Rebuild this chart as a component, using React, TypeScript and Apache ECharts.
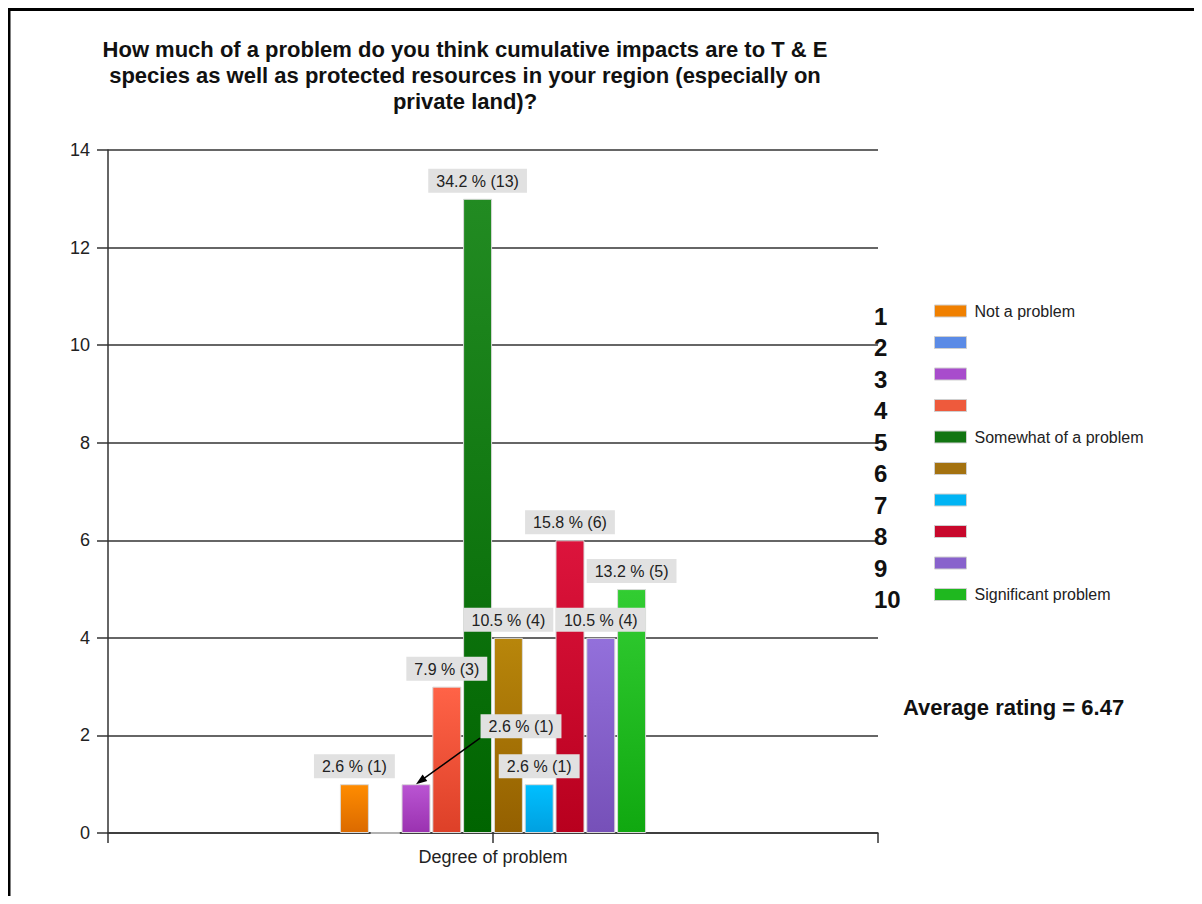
import React, { useEffect, useRef } from 'react';
import * as echarts from 'echarts';

const FONT = '"Liberation Sans", Arial, sans-serif';

const titleLines = [
  'How much of a problem do you think cumulative impacts are to T & E',
  'species as well as protected resources in your region (especially on',
  'private land)?',
];
const categories = ['Degree of problem'];
const ratingNames = ['1', '2', '3', '4', '5', '6', '7', '8', '9', '10'];
const ratingDescriptions = [
  'Not a problem', '', '', '', 'Somewhat of a problem', '', '', '', '', 'Significant problem',
];
const responseCounts = [1, 0, 1, 3, 13, 4, 1, 6, 4, 5];
const barTopColors = [
  '#ff8c00', '#6495ed', '#ba55d3', '#ff6347', '#228b22',
  '#b8860b', '#00bfff', '#dc143c', '#9370db', '#32cd32',
];
const barBottomColors = [
  '#db6a00', '#4a7ad6', '#9a32b0', '#dd4028', '#006400',
  '#946000', '#00a0e0', '#b8001e', '#7650b8', '#10a810',
];
const swatchColors = [
  '#f08000', '#5b8be6', '#a84ccc', '#ee5a3c', '#127512',
  '#a47210', '#00b4f4', '#c8082c', '#8862cc', '#1fb81f',
];
const yMin = 0;
const yMax = 14;
const yInterval = 2;
// Label for rating 3 is moved aside and tied back to its bar with an arrow.
const movedLabelIndex = 2;
const movedLabelOffset = [105, -40];

const total = responseCounts.reduce((a, b) => a + b, 0);
const averageRating =
  responseCounts.reduce((acc, v, i) => acc + v * Number(ratingNames[i]), 0) / total;

export default function App() {
  const ref = useRef<HTMLDivElement>(null);

  useEffect(() => {
    if (!ref.current) return;
    const chart = echarts.init(ref.current, null, { renderer: 'svg' });

    const series = ratingNames.map((name, i) => ({
      type: 'bar',
      name,
      data: [responseCounts[i]],
      barWidth: 29,
      barGap: '6.2%',
      itemStyle: {
        color: new echarts.graphic.LinearGradient(0, 0, 0, 1, [
          { offset: 0, color: barTopColors[i] },
          { offset: 1, color: barBottomColors[i] },
        ]),
        borderColor: '#d9d9d9',
        borderWidth: 1,
      },
      label: {
        show: responseCounts[i] > 0,
        position: 'top',
        distance: 6,
        offset: i === movedLabelIndex ? movedLabelOffset : [0, 0],
        formatter: (p: any) => `${((p.value / total) * 100).toFixed(1)} % (${p.value})`,
        backgroundColor: '#e1e1e1',
        padding: [4, 8, 3, 8],
        color: '#222',
        fontSize: 16,
        lineHeight: 17,
        fontFamily: FONT,
      },
      emphasis: { disabled: true },
    }));

    const axisLineStyle = { color: '#333', width: 1.5 };

    const baseGraphic: any[] = [
      {
        type: 'rect',
        silent: true,
        shape: { x: 1, y: 1.5, width: 3000, height: 3000 },
        style: { fill: 'none', stroke: '#000', lineWidth: 3 },
      },
      {
        type: 'text',
        silent: true,
        x: 457,
        y: 28,
        style: {
          text: titleLines.join('\n'),
          fontSize: 22,
          fontWeight: 'bold',
          fontFamily: FONT,
          align: 'center',
          verticalAlign: 'top',
          lineHeight: 26,
          fill: '#111',
        },
      },
      {
        type: 'text',
        silent: true,
        x: 895,
        y: 699,
        style: {
          text: `Average rating = ${averageRating.toFixed(2)}`,
          fontSize: 22,
          fontWeight: 'bold',
          fontFamily: FONT,
          align: 'left',
          verticalAlign: 'middle',
          fill: '#111',
        },
      },
    ];

    chart.setOption({
      animation: false,
      grid: { left: 100, top: 142, width: 770, height: 683, containLabel: false },
      xAxis: [
        {
          type: 'category',
          data: categories,
          axisLine: { lineStyle: axisLineStyle },
          axisTick: { show: true, length: 10, alignWithLabel: false, lineStyle: axisLineStyle },
          axisLabel: { fontSize: 18, color: '#222', margin: 15, fontFamily: FONT },
          splitLine: { show: false },
        },
        {
          type: 'category',
          data: categories,
          position: 'bottom',
          axisLine: { show: false },
          axisTick: { show: true, length: 10, alignWithLabel: true, lineStyle: axisLineStyle },
          axisLabel: { show: false },
          splitLine: { show: false },
        },
      ],
      yAxis: {
        type: 'value',
        min: yMin,
        max: yMax,
        interval: yInterval,
        axisLine: { show: true, lineStyle: axisLineStyle },
        axisTick: { show: true, length: 11, lineStyle: axisLineStyle },
        axisLabel: { fontSize: 18, color: '#222', margin: 18, fontFamily: FONT },
        splitLine: { show: true, lineStyle: axisLineStyle },
      },
      legend: [
        {
          data: ratingNames.map((name, i) => ({
            name,
            itemStyle: { color: swatchColors[i], borderColor: '#cfcfcf', borderWidth: 1 },
          })),
          orient: 'vertical',
          left: 926,
          top: 287.25,
          padding: 0,
          itemGap: 0,
          itemWidth: 32,
          itemHeight: 12,
          icon: 'rect',
          selectedMode: false,
          formatter: (name: string) => ratingDescriptions[ratingNames.indexOf(name)] || ' ',
          textStyle: {
            fontSize: 16,
            lineHeight: 31.5,
            color: '#222',
            fontFamily: FONT,
            padding: [0, 0, 0, 3],
          },
        },
        {
          data: ratingNames,
          orient: 'vertical',
          left: 860,
          top: 292.25,
          padding: 0,
          itemGap: 0,
          itemWidth: 0,
          itemHeight: 12,
          icon: 'rect',
          itemStyle: { opacity: 0 },
          selectedMode: false,
          textStyle: {
            fontSize: 24,
            fontWeight: 'bold',
            lineHeight: 31.5,
            color: '#111',
            fontFamily: FONT,
          },
        },
      ],
      graphic: baseGraphic,
      series,
    });

    // Arrow from the moved label back to the top of its bar, placed from the bar's own layout.
    try {
      const layout = (chart as any)
        .getModel()
        .getSeriesByIndex(movedLabelIndex)
        .getData()
        .getItemLayout(0);
      if (layout) {
        const tipX = layout.x + layout.width / 2;
        const tipY = Math.min(layout.y, layout.y + layout.height);
        const tailX = tipX + movedLabelOffset[0] - 41;
        const tailY = tipY + movedLabelOffset[1] - 6;
        const dx = tipX - tailX;
        const dy = tipY - tailY;
        const len = Math.sqrt(dx * dx + dy * dy);
        const ux = dx / len;
        const uy = dy / len;
        const nx = -uy;
        const ny = ux;
        const headLen = 11;
        const headHalf = 4;
        const bx = tipX - ux * headLen;
        const by = tipY - uy * headLen;
        chart.setOption({
          graphic: [
            ...baseGraphic,
            {
              type: 'line',
              silent: true,
              shape: { x1: tailX, y1: tailY, x2: bx + ux * 2, y2: by + uy * 2 },
              style: { stroke: '#000', lineWidth: 1.5 },
              z: 10,
            },
            {
              type: 'polygon',
              silent: true,
              shape: {
                points: [
                  [tipX, tipY],
                  [bx + nx * headHalf, by + ny * headHalf],
                  [bx - nx * headHalf, by - ny * headHalf],
                ],
              },
              style: { fill: '#000' },
              z: 10,
            },
          ],
        });
      }
    } catch (e) {
      // layout not available; chart stays without the arrow
    }

    return () => chart.dispose();
  }, []);

  // The frame runs down to the bottom edge of the page, so the box reaches into the body's bottom margin.
  return <div ref={ref} style={{ width: 1186, height: 896, marginBottom: -8 }} />;
}
